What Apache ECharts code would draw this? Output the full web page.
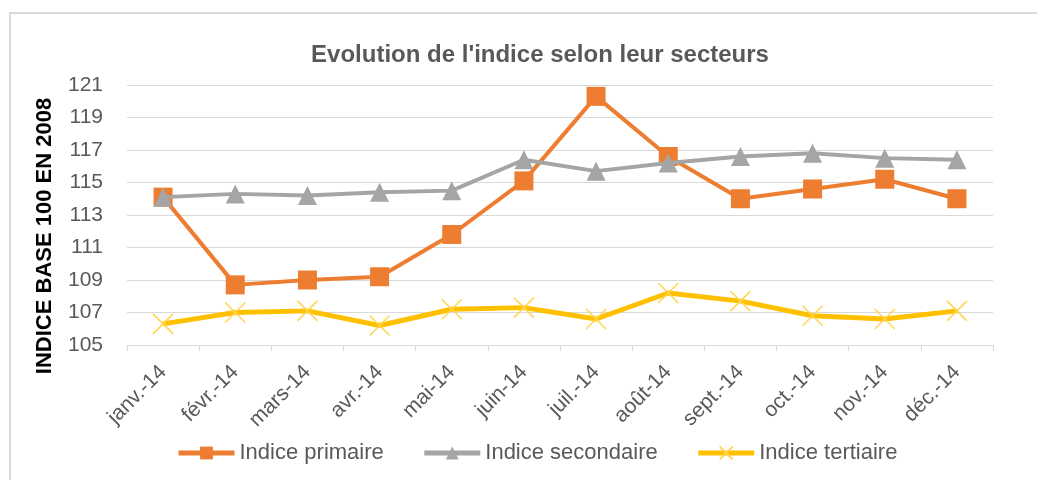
<!DOCTYPE html>
<html>
<head>
<meta charset="utf-8">
<script src="https://cdn.jsdelivr.net/npm/echarts@6/dist/echarts.min.js"></script>
<style>
  html, body { margin: 0; padding: 0; background: #fff; }
  #chart { width: 1037px; height: 480px; }
</style>
</head>
<body>
<div id="chart"></div>
<script>
const months = ['janv.-14', 'févr.-14', 'mars-14', 'avr.-14', 'mai-14', 'juin-14',
  'juil.-14', 'août-14', 'sept.-14', 'oct.-14', 'nov.-14', 'déc.-14']

const primaire = [114.1, 108.7, 109.0, 109.2, 111.8, 115.1, 120.3, 116.6, 114.0, 114.6, 115.2, 114.0]
const secondaire = [114.1, 114.3, 114.2, 114.4, 114.5, 116.4, 115.7, 116.2, 116.6, 116.8, 116.5, 116.4]
const tertiaire = [106.3, 107.0, 107.1, 106.2, 107.2, 107.3, 106.6, 108.2, 107.7, 106.8, 106.6, 107.1]

const font = '"Liberation Sans", sans-serif'
const crossPath = 'path://M0,0L10,10M10,0L0,10'

const chart = echarts.init(document.getElementById('chart'))

chart.setOption({
  animation: false,
  title: {
    text: "Evolution de l'indice selon leur secteurs",
    left: 535,
    textAlign: 'center',
    top: 38,
    textStyle: { fontFamily: font, fontSize: 24, fontWeight: 'bold', color: '#595959' }
  },
  graphic: [
    {
      type: 'rect',
      shape: { x: 10, y: 13, width: 1040, height: 500 },
      style: { fill: 'none', stroke: '#d9d9d9', lineWidth: 2 },
      silent: true
    },
    {
      type: 'text',
      x: 45,
      y: 236,
      rotation: Math.PI / 2,
      style: {
        text: 'INDICE BASE 100 EN 2008',
        fontFamily: font,
        fontSize: 22,
        fontWeight: 'bold',
        fill: '#000',
        align: 'center',
        verticalAlign: 'middle'
      }
    }
  ],
  legend: {
    top: 437,
    left: 171,
    itemGap: 38,
    itemWidth: 56,
    itemHeight: 16,
    lineStyle: { width: 5 },
    textStyle: { fontFamily: font, fontSize: 22, color: '#595959' },
    data: ['Indice primaire', 'Indice secondaire', 'Indice tertiaire']
  },
  grid: { left: 127, right: 44, top: 85, bottom: 135 },
  xAxis: {
    type: 'category',
    data: months,
    axisLine: { lineStyle: { color: '#d9d9d9', width: 1 } },
    axisTick: { show: true, length: 6, lineStyle: { color: '#d9d9d9' } },
    axisLabel: {
      rotate: 45,
      margin: 24,
      fontFamily: font,
      fontSize: 21,
      color: '#595959'
    }
  },
  yAxis: {
    type: 'value',
    min: 105,
    max: 121,
    interval: 2,
    axisLine: { show: false },
    axisTick: { show: false },
    splitLine: { lineStyle: { color: '#d9d9d9', width: 1 } },
    axisLabel: { margin: 24, fontFamily: font, fontSize: 21, color: '#595959' }
  },
  series: [
    {
      name: 'Indice primaire',
      type: 'line',
      data: primaire,
      color: '#ED7D31',
      symbol: 'rect',
      symbolSize: 19,
      lineStyle: { width: 4, color: '#ED7D31' },
      itemStyle: { color: '#ED7D31' },
      z: 3
    },
    {
      name: 'Indice secondaire',
      type: 'line',
      data: secondaire,
      color: '#A5A5A5',
      symbol: 'triangle',
      symbolSize: 19,
      lineStyle: { width: 4, color: '#A5A5A5' },
      itemStyle: { color: '#A5A5A5' },
      z: 4
    },
    {
      name: 'Indice tertiaire',
      type: 'line',
      data: tertiaire,
      color: '#FFC000',
      symbol: crossPath,
      symbolSize: 20,
      lineStyle: { width: 5, color: '#FFC000' },
      itemStyle: { color: '#FFD54F', borderColor: '#FFD54F', borderWidth: 1.5 },
      z: 2
    }
  ]
})
</script>
</body>
</html>
